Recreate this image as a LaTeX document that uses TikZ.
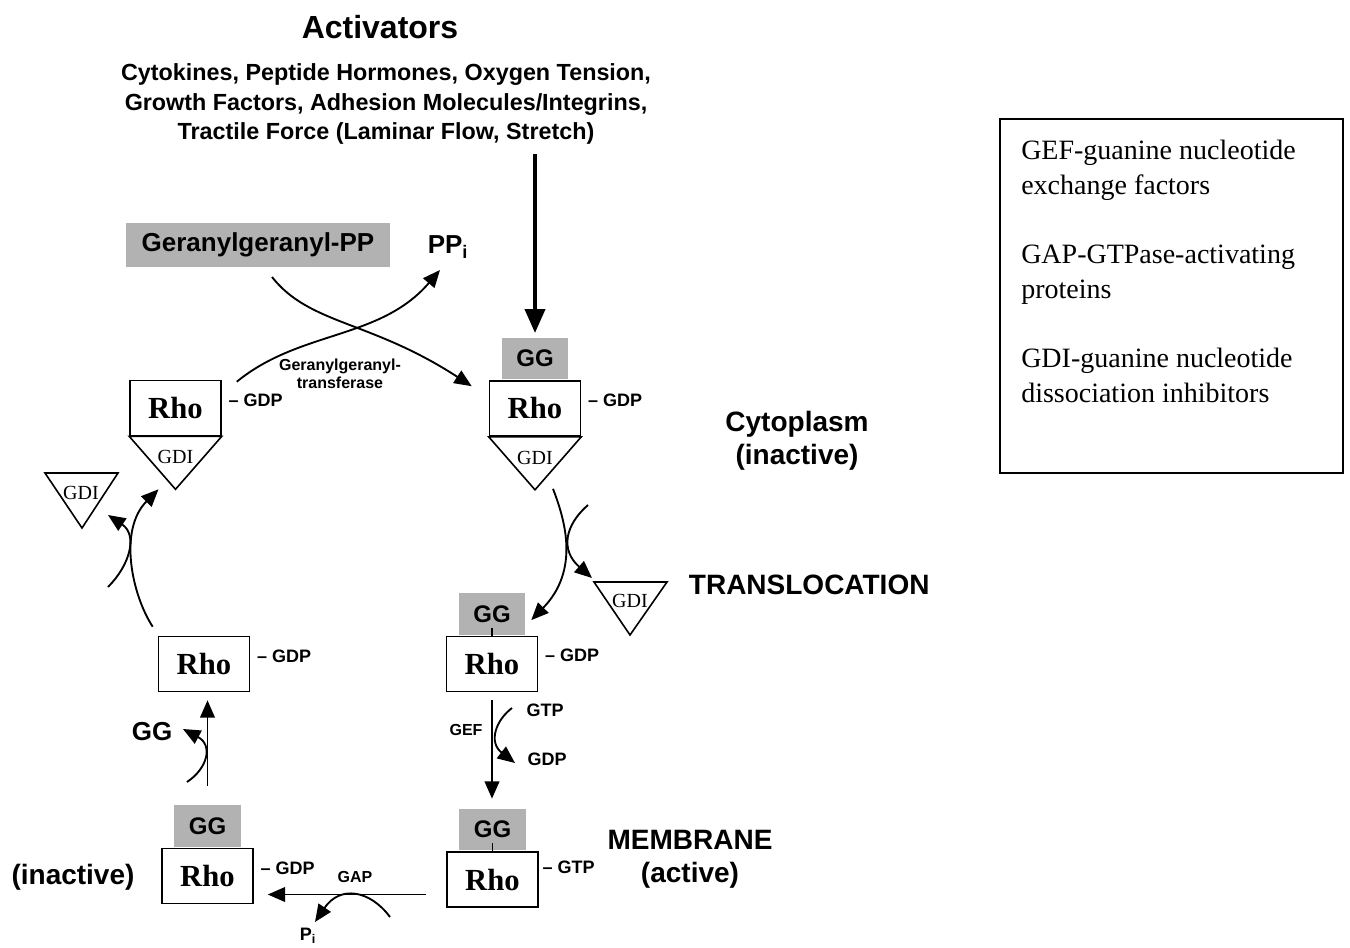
\documentclass[tikz,border=0pt]{standalone}
\usepackage{fontspec}
\setmainfont{Liberation Serif}
\newfontfamily\arialfont{Liberation Sans}
\usetikzlibrary{positioning,arrows.meta,calc}

\begin{document}
\begin{tikzpicture}[
		x=0.75pt, y=-0.75pt,
		line width=1.4pt,
		title/.style={font=\arialfont\bfseries\fontsize{24}{28}\selectfont, inner sep=0pt},
		actlist/.style={font=\arialfont\bfseries\fontsize{17.5}{22}\selectfont, align=center, inner sep=0pt},
		biglbl/.style={font=\arialfont\bfseries\fontsize{21}{25}\selectfont, align=center, inner sep=0pt},
		midlbl/.style={font=\arialfont\bfseries\fontsize{19.5}{22}\selectfont, inner sep=0pt},
		gdp/.style={font=\arialfont\bfseries\fontsize{13.5}{16}\selectfont, inner sep=0pt},
		enz/.style={font=\arialfont\bfseries\fontsize{12}{13.5}\selectfont, align=center, inner sep=0pt},
		rho/.style={draw, line width=1.2pt, minimum width=68.25pt, minimum height=41.25pt, inner sep=0pt,
			font=\bfseries\fontsize{23}{26}\selectfont},
		gg/.style={fill=gray!60, minimum width=50pt, minimum height=31pt, inner sep=0pt,
			font=\arialfont\bfseries\fontsize{18}{20}\selectfont},
		ggpp/.style={fill=gray!60, minimum width=198pt, minimum height=33pt, inner sep=0pt,
			font=\arialfont\bfseries\fontsize{19.5}{22}\selectfont},
		gdi/.style={font=\fontsize{15}{17}\selectfont, inner sep=0pt},
		tri/.style={draw, line width=1.2pt, line join=miter},
		arr/.style={-{Triangle[length=13pt, width=11pt]}, line width=1.4pt},
		bigarr/.style={-{Triangle[length=18pt, width=15pt]}, line width=3pt},
		legendbox/.style={draw, line width=1pt, minimum width=257.25pt, minimum height=265.5pt, inner sep=0pt},
		legtext/.style={font=\fontsize{21}{26}\selectfont, align=left, inner sep=0pt}
		]
		\useasboundingbox (0,0) rectangle (1350,947);
		% headings
		\node[title] (act) at (380,27) {Activators};
		\node[actlist] (actlist) at (386,104)
		{Cytokines, Peptide Hormones, Oxygen Tension,\\
			Growth Factors, Adhesion Molecules/Integrins,\\
			Tractile Force (Laminar Flow, Stretch)};
		\node[ggpp] (ggpp) at (258,245) {Geranylgeranyl-PP};
		\node[midlbl] (ppi) at (448,247) {PP\textsubscript{i}};
		% Rho boxes
		\node[rho] (rhoTR) at (535,408.5) {Rho};
		\node[rho] (rhoTL) at (175.5,408) {Rho};
		\node[rho] (rhoMR) at (492,664) {Rho};
		\node[rho] (rhoML) at (204,664) {Rho};
		\node[rho] (rhoBR) at (492.5,879.5) {Rho};
		\node[rho] (rhoBL) at (207.5,876) {Rho};
		\node[gg, above=0pt of rhoTR] (ggTR) {GG};
		\node[gg, above=0pt of rhoMR] (ggMR) {GG};
		\node[gg, above=0pt of rhoBR] (ggBR) {GG};
		\node[gg, above=0pt of rhoBL] (ggBL) {GG};
		\draw[line width=1pt] ([yshift=6pt]ggMR.south) -- (ggMR.south);
		\draw[line width=1pt] ([yshift=6pt]ggBR.south) -- (ggBR.south);
		% GDI caps
		\draw[tri] (rhoTR.south west) -- (rhoTR.south east) -- ($(rhoTR.south)+(0,53)$) -- cycle;
		\draw[tri] (rhoTL.south west) -- (rhoTL.south east) -- ($(rhoTL.south)+(0,53)$) -- cycle;
		\node[gdi] (gdiTR) at ($(rhoTR.south)+(0,21)$) {GDI};
		\node[gdi] (gdiTL) at ($(rhoTL.south)+(0,21)$) {GDI};
		\node[gdi] (gdiFreeR) at (630,601) {GDI};
		\draw[tri] ($(gdiFreeR)+(-36,-19)$) -- ++(73,0) -- ($(gdiFreeR)+(0,34)$) -- cycle;
		\node[gdi] (gdiFreeL) at (81,493) {GDI};
		\draw[tri] ($(gdiFreeL)+(-36,-20)$) -- ++(73,0) -- ($(gdiFreeL)+(1,35)$) -- cycle;
		% nucleotide tags
		\node[gdp, anchor=west] (gdpTR) at ($(rhoTR.east)+(6,-8)$) {\textendash\ GDP};
		\node[gdp, anchor=west] (gdpTL) at ($(rhoTL.east)+(6,-8)$) {\textendash\ GDP};
		\node[gdp, anchor=west] (gdpMR) at ($(rhoMR.east)+(6,-9)$) {\textendash\ GDP};
		\node[gdp, anchor=west] (gdpML) at ($(rhoML.east)+(6,-8)$) {\textendash\ GDP};
		\node[gdp, anchor=west] (gtpBR) at ($(rhoBR.east)+(3,-12)$) {\textendash\ GTP};
		\node[gdp, anchor=west] (gdpBL) at ($(rhoBL.east)+(6,-8)$) {\textendash\ GDP};
		% compartment labels
		\node[biglbl] (cyto) at (797,441) {Cytoplasm\\(inactive)};
		\node[biglbl, anchor=west] (transl) at (688,585) {TRANSLOCATION};
		\node[biglbl] (membr) at (690,859) {MEMBRANE\\(active)};
		\node[biglbl] (inact) at (73,877) {(inactive)};
		% enzymes and small labels
		\node[enz] (ggtr) at (340,374) {Geranylgeranyl-\\transferase};
		\node[enz] (gef) at (466,730) {GEF};
		\node[gdp] (gtpIn) at (545,710) {GTP};
		\node[gdp] (gdpOut) at (547,759) {GDP};
		\node[enz] (gap) at (355,877) {GAP};
		\node[gdp] (pi) at (308,936) {P\textsubscript{i}};
		\node[midlbl] (ggOutLbl) at (152,732) {GG};
		% legend
		\node[legendbox] (legend) at (1171.5,296) {};
		\node[legtext, anchor=north west] (legtxt) at ($(legend.north west)+(21,21)$)
		{GEF-guanine nucleotide\\exchange factors\\[26pt]
			GAP-GTPase-activating\\proteins\\[26pt]
			GDI-guanine nucleotide\\dissociation inhibitors};
		% free ends
		\coordinate (ggppOut) at (272,277);
		\coordinate (rhoTLout) at ($(rhoTL.north east)+(15,2)$);
		\coordinate (ppiIn) at (440,270);
		\coordinate (rhoTRin) at ($(rhoTR.north west)+(-17,6)$);
		\coordinate (gdiRel) at (588,505);
		\coordinate (gdiRelEnd) at (592,578);
		\coordinate (gdiBack) at (108,587);
		\coordinate (gdiBackEnd) at (108,515);
		\coordinate (gtpStart) at (512,708);
		\coordinate (gdpEnd) at (515,763);
		\coordinate (ggStart) at (187,782);
		\coordinate (ggEnd) at (183,729);
		\coordinate (gapStart) at ([yshift=-11.25pt]rhoBR.west);
		\coordinate (gapSide) at (390,917);
		\coordinate (piEnd) at (315,922);
		% connectors
		\draw[bigarr, shorten <=7pt, shorten >=3pt] (ggTR.north |- actlist.south) -- (ggTR.north);
		\draw[arr] (ggppOut) .. controls (310,325) and (370,320) .. (rhoTRin);
		\draw[arr] (rhoTLout) .. controls (300,330) and (380,340) .. (ppiIn);
		\draw[arr] ($(rhoTR.south)+(18,52)$) .. controls (565,520) and (580,570) .. ($(ggMR.east)+(5,6)$);
		\draw[arr] (gdiRel) .. controls (565,525) and (560,550) .. (gdiRelEnd);
		\draw[arr, shorten <=6pt, shorten >=7pt] (rhoMR.south) -- (rhoMR.south |- ggBR.north);
		\draw[arr] (gtpStart) .. controls (496,720) and (488,742) .. (gdpEnd);
		\draw[arr, shorten <=15pt, shorten >=10.5pt] (gapStart) -- (gapStart -| rhoBL.east);
		\draw[arr] (gapSide) .. controls (370,890) and (340,885) .. (piEnd);
		\draw[arr, shorten <=14pt, shorten >=6pt] (ggBL.north) -- (ggBL.north |- rhoML.south);
		\draw[arr] (ggStart) .. controls (208,768) and (213,745) .. (ggEnd);
		\draw[arr] ($(rhoML.north west)+(-5,-9)$) .. controls (132,595) and (118,530) .. ($(rhoTL.south)+(-17,53)$);
		\draw[arr] (gdiBack) .. controls (130,565) and (138,535) .. (gdiBackEnd);
	\end{tikzpicture}
\end{document}
